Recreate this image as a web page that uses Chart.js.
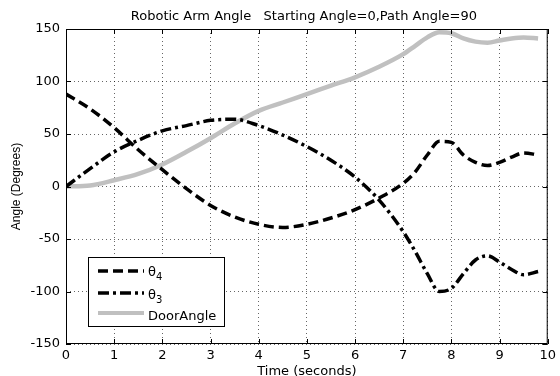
<!DOCTYPE html>
<html>
<head>
<meta charset="utf-8">
<script src="https://cdn.jsdelivr.net/npm/chart.js@4.4.0/dist/chart.umd.min.js"></script>
<style>
  html, body { margin: 0; padding: 0; background: #fff; }
  #wrap { width: 560px; height: 376px; }
</style>
</head>
<body>
<div id="wrap"><canvas id="chart" width="560" height="376"></canvas></div>
<script>
// samples (time in seconds, angles in degrees)
const timeSec   = [0, 0.5, 1, 1.5, 2, 2.5, 3, 3.5, 4, 4.5, 5, 5.5, 6, 6.5, 7, 7.25, 7.5, 7.75, 8, 8.25, 8.5, 8.75, 9, 9.25, 9.5, 9.8];
const theta4    = [88, 74, 56, 35, 16, -2, -18, -29, -36, -39, -36, -30, -22, -11, 3, 14, 30, 43, 42, 30, 23, 20, 23, 28, 32, 30];
const theta3    = [0, 17, 33, 44, 53, 58, 63, 64, 58, 49, 38, 25, 9, -13, -43, -62, -83, -100, -97, -83, -70, -66, -72, -79, -84, -81];
const doorAngle = [0, 1, 6, 12, 21, 33, 46, 60, 72, 80, 88, 96, 104, 114, 126, 134, 142, 147, 146, 141, 138, 137, 139, 141, 142, 141];

const xTicks = [0, 1, 2, 3, 4, 5, 6, 7, 8, 9, 10];
const yTicks = [-150, -100, -50, 0, 50, 100, 150];

const titleText = 'Robotic Arm Angle   Starting Angle=0,Path Angle=90';
const xTitle = 'Time (seconds)';
const yTitle = 'Angle (Degrees)';

const FONT = '"DejaVu Sans", sans-serif';

function toPoints(values) {
  return values.map((v, i) => ({ x: timeSec[i], y: v }));
}

// legend entries, drawn inside the plot like the MATLAB figure
const legendRows = [
  { name: 'θ', sub: '4', dash: [10, 5], color: '#000', width: 3.5, lineY: 271, textY: 276 },
  { name: 'θ', sub: '3', dash: [11, 4, 3, 4], color: '#000', width: 3.5, lineY: 293, textY: 299 },
  { name: 'DoorAngle', sub: '', dash: [], color: '#c0c0c0', width: 4, lineY: 313, textY: 320 }
];

// axes box, inward ticks, title and legend
const matlabFrame = {
  id: 'matlabFrame',
  afterDraw(chart) {
    const { ctx, chartArea: a, scales: { x, y } } = chart;
    ctx.save();
    ctx.setLineDash([]);
    ctx.strokeStyle = '#000';
    ctx.lineWidth = 1;
    ctx.strokeRect(a.left + 0.5, a.top + 0.5, a.right - a.left - 1, a.bottom - a.top - 1);

    ctx.beginPath();
    xTicks.forEach(v => {
      const px = Math.round(x.getPixelForValue(v)) + 0.5;
      ctx.moveTo(px, a.bottom); ctx.lineTo(px, a.bottom - 5);
      ctx.moveTo(px, a.top); ctx.lineTo(px, a.top + 5);
    });
    yTicks.forEach(v => {
      const py = Math.round(y.getPixelForValue(v)) + 0.5;
      ctx.moveTo(a.left, py); ctx.lineTo(a.left + 5, py);
      ctx.moveTo(a.right, py); ctx.lineTo(a.right - 5, py);
    });
    ctx.stroke();

    // title
    ctx.fillStyle = '#000';
    ctx.font = '13px ' + FONT;
    ctx.textAlign = 'center';
    ctx.textBaseline = 'alphabetic';
    ctx.fillText(titleText, (a.left + a.right) / 2 - 3, 20);

    // legend box
    ctx.fillStyle = '#fff';
    ctx.fillRect(88, 257, 136, 69);
    ctx.strokeStyle = '#000';
    ctx.lineWidth = 1;
    ctx.strokeRect(88.5, 257.5, 136, 69);

    legendRows.forEach(row => {
      ctx.beginPath();
      ctx.setLineDash(row.dash);
      ctx.strokeStyle = row.color;
      ctx.lineWidth = row.width;
      ctx.moveTo(98, row.lineY);
      ctx.lineTo(144, row.lineY);
      ctx.stroke();
      ctx.setLineDash([]);

      ctx.fillStyle = '#000';
      ctx.textAlign = 'left';
      ctx.font = '13px ' + FONT;
      ctx.fillText(row.name, 148, row.textY);
      if (row.sub) {
        const w = ctx.measureText(row.name).width;
        ctx.font = '10px ' + FONT;
        ctx.fillText(row.sub, 148 + w, row.textY + 4);
      }
    });
    ctx.restore();
  }
};

new Chart(document.getElementById('chart'), {
  type: 'line',
  data: {
    datasets: [
      {
        label: 'θ4',
        data: toPoints(theta4),
        borderColor: '#000',
        borderWidth: 3.5,
        borderDash: [10, 5],
        pointRadius: 0,
        cubicInterpolationMode: 'monotone',
        fill: false
      },
      {
        label: 'θ3',
        data: toPoints(theta3),
        borderColor: '#000',
        borderWidth: 3.5,
        borderDash: [11, 4, 3, 4],
        pointRadius: 0,
        cubicInterpolationMode: 'monotone',
        fill: false
      },
      {
        label: 'DoorAngle',
        data: toPoints(doorAngle),
        borderColor: '#c0c0c0',
        borderWidth: 4.5,
        pointRadius: 0,
        cubicInterpolationMode: 'monotone',
        fill: false
      }
    ]
  },
  options: {
    responsive: false,
    animation: false,
    devicePixelRatio: 1,
    layout: { autoPadding: false, padding: { top: 29, left: 0, right: 2, bottom: 0 } },
    plugins: {
      legend: { display: false },
      title: { display: false },
      tooltip: { enabled: false }
    },
    scales: {
      x: {
        type: 'linear',
        min: 0,
        max: 10,
        afterBuildTicks: s => { s.ticks = xTicks.map(v => ({ value: v })); },
        afterFit: s => { s.height = 32; },
        grid: { color: 'rgba(0,0,0,0.6)', lineWidth: 1, drawTicks: false },
        border: { display: false, dash: [1, 3] },
        ticks: { color: '#000', padding: 4, maxRotation: 0, font: { family: FONT, size: 13 } },
        title: {
          display: true,
          text: xTitle,
          color: '#000',
          font: { family: FONT, size: 13, lineHeight: 1 },
          padding: { top: 0, bottom: -2 }
        }
      },
      y: {
        type: 'linear',
        min: -150,
        max: 150,
        afterBuildTicks: s => { s.ticks = yTicks.map(v => ({ value: v })); },
        afterFit: s => { s.width = 66; },
        grid: { color: 'rgba(0,0,0,0.6)', lineWidth: 1, drawTicks: false },
        border: { display: false, dash: [1, 3] },
        ticks: { color: '#000', padding: 6, font: { family: FONT, size: 13 } },
        title: {
          display: true,
          text: yTitle,
          color: '#000',
          font: { family: '"Liberation Sans", Arial, sans-serif', size: 12, lineHeight: 1.2 },
          padding: { top: 9, bottom: 0 }
        }
      }
    }
  },
  plugins: [matlabFrame]
});
</script>
</body>
</html>
